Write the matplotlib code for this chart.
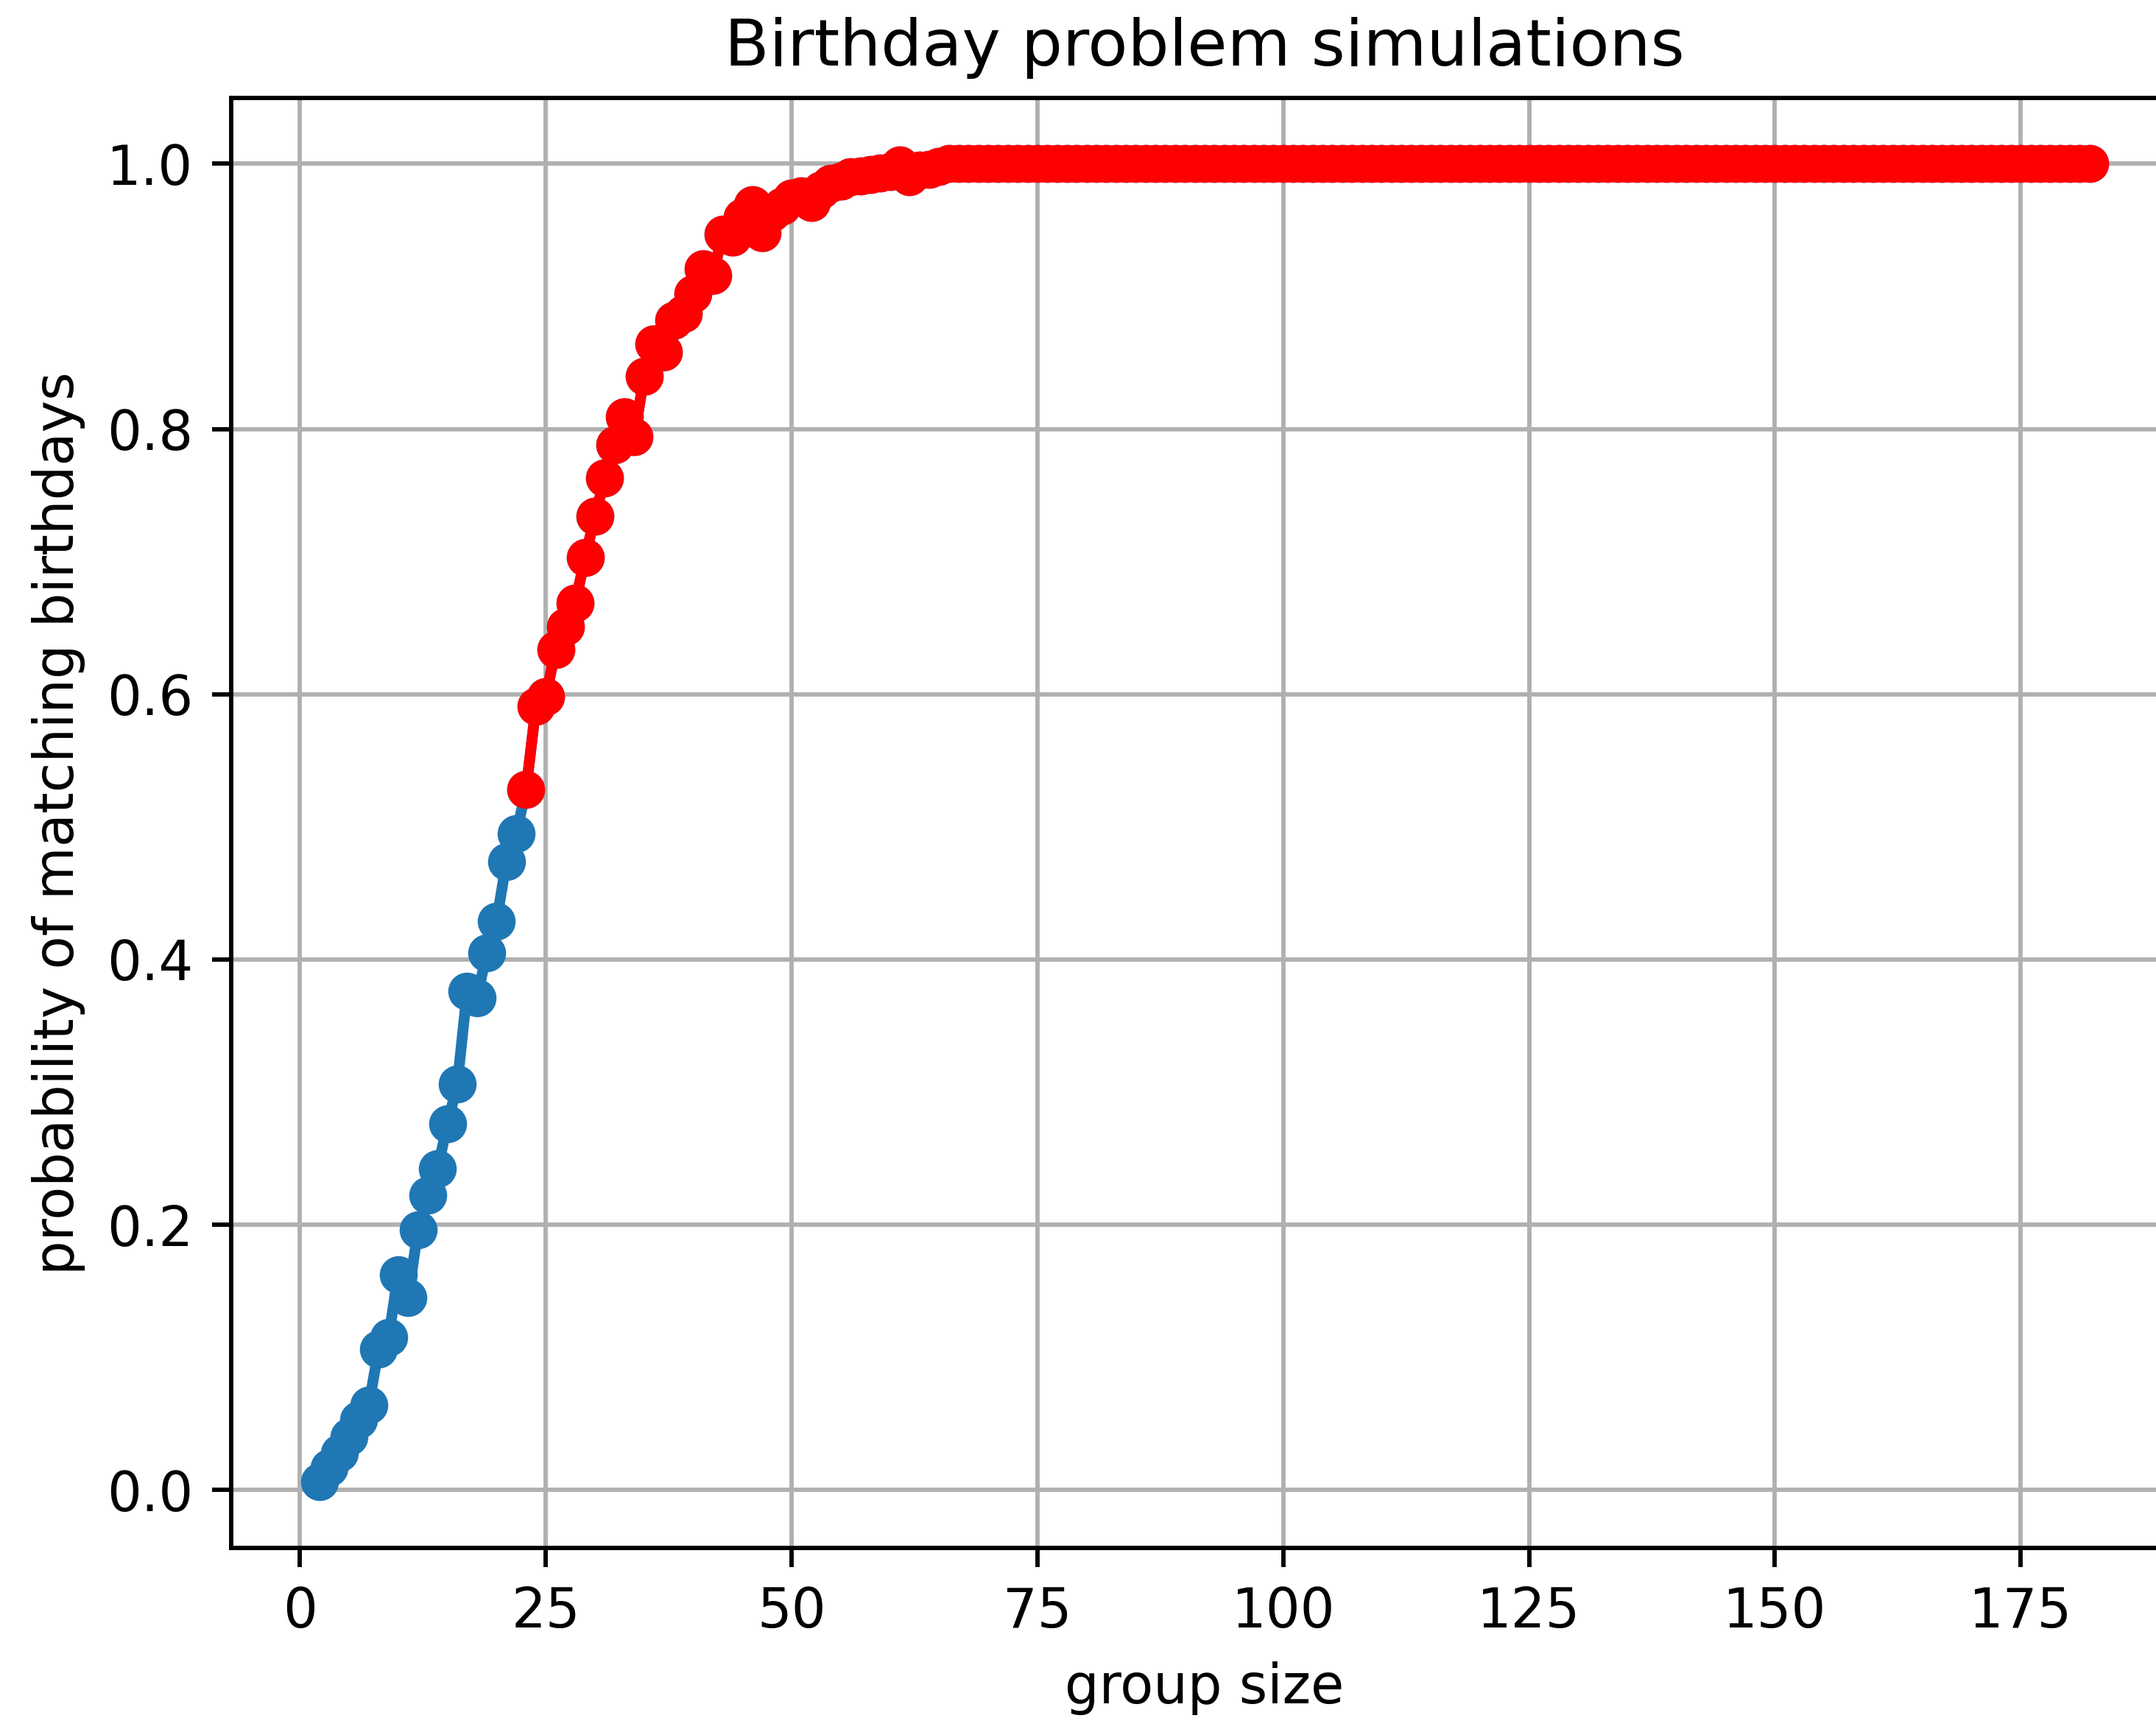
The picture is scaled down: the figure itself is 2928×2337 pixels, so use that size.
"""
==== Birthday problem simulations
======== Probability of at least one shared birthday vs group size
"""

# IMPORT MODULES ====================================================

import numpy as np
import matplotlib
matplotlib.use('Agg')
import matplotlib.pyplot as plt

# =====================================================================

# DATA ================================================================
# group sizes 2..182, simulated probability

group_size = list(range(2, 183))

prob_match = [
    0.006, 0.017, 0.028, 0.040, 0.053, 0.064, 0.106, 0.115, 0.162, 0.145,
    0.196, 0.222, 0.242, 0.276, 0.306, 0.376, 0.371, 0.405, 0.429, 0.474,
    0.495, 0.528, 0.591, 0.598, 0.634, 0.651, 0.669, 0.703, 0.734, 0.763,
    0.788, 0.809, 0.794, 0.840, 0.864, 0.858, 0.882, 0.887, 0.902, 0.921,
    0.916, 0.947, 0.945, 0.960, 0.969, 0.948, 0.963, 0.968, 0.974, 0.976,
    0.971, 0.980, 0.985, 0.987, 0.990, 0.991, 0.992, 0.993, 0.994, 0.999,
    0.990, 0.995, 0.996, 0.998, 1.0, 1.0, 1.0, 1.0, 1.0, 1.0,
    1.0, 1.0, 1.0, 1.0, 1.0, 1.0, 1.0, 1.0, 1.0, 1.0,
    1.0, 1.0, 1.0, 1.0, 1.0, 1.0, 1.0, 1.0, 1.0, 1.0,
    1.0, 1.0, 1.0, 1.0, 1.0, 1.0, 1.0, 1.0, 1.0, 1.0,
    1.0, 1.0, 1.0, 1.0, 1.0, 1.0, 1.0, 1.0, 1.0, 1.0,
    1.0, 1.0, 1.0, 1.0, 1.0, 1.0, 1.0, 1.0, 1.0, 1.0,
    1.0, 1.0, 1.0, 1.0, 1.0, 1.0, 1.0, 1.0, 1.0, 1.0,
    1.0, 1.0, 1.0, 1.0, 1.0, 1.0, 1.0, 1.0, 1.0, 1.0,
    1.0, 1.0, 1.0, 1.0, 1.0, 1.0, 1.0, 1.0, 1.0, 1.0,
    1.0, 1.0, 1.0, 1.0, 1.0, 1.0, 1.0, 1.0, 1.0, 1.0,
    1.0, 1.0, 1.0, 1.0, 1.0, 1.0, 1.0, 1.0, 1.0, 1.0,
    1.0, 1.0, 1.0, 1.0, 1.0, 1.0, 1.0, 1.0, 1.0, 1.0,
    1.0,
]

threshold = 0.5  # red once a match is more likely than not

# =====================================================================

# PLOT ================================================================

N = np.array(group_size)
P = np.array(prob_match)
above = P >= threshold

DPI = 530
fig = plt.figure(figsize=(2928 / DPI, 2337 / DPI), dpi=DPI)
# axes runs a little past the right edge, like the reference crop
ax = fig.add_axes([0.1072, 0.1006, 0.903, 0.8425])

ax.plot(N, P, 'o-', color='#1f77b4', linewidth=2, markersize=6)
ax.plot(N[above], P[above], 'o-', color='red', linewidth=2, markersize=6)

ax.set_title('Birthday problem simulations', fontsize=12)
ax.set_xlabel('group size')
ax.set_ylabel('probability of matching birthdays')
ax.grid(True)

fig.savefig('out.png', dpi=DPI)

# ====================================================================
